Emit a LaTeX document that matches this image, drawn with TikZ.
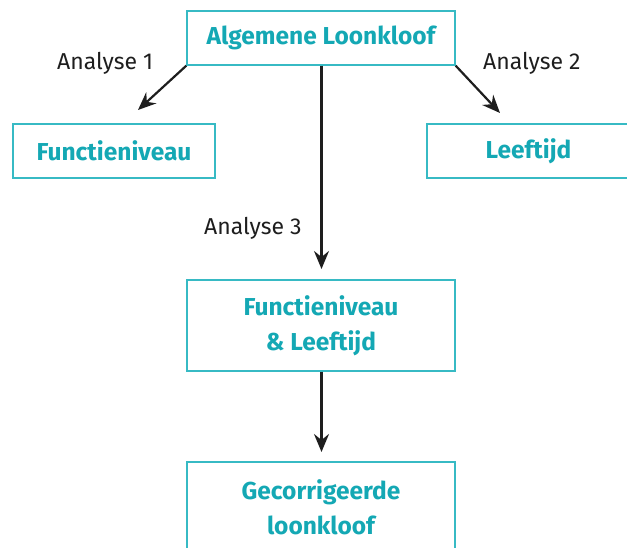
\documentclass[tikz,border=0pt]{standalone}
\usepackage{fontspec}
\setmainfont{Fira Sans}
\usetikzlibrary{arrows.meta}
\definecolor{tealtext}{RGB}{20,168,180}
\definecolor{tealbox}{RGB}{55,186,196}
\definecolor{arrowcol}{RGB}{30,30,30}
\tikzset{
  box/.style={draw=tealbox, line width=1.3pt, fill=white, text=tealtext,
    font=\fontsize{24.5}{35}\selectfont\bfseries, align=center, inner sep=0pt},
  lbl/.style={anchor=base west, inner sep=0pt, text=arrowcol,
    font=\fontsize{23}{26}\selectfont},
  conn/.style={draw=arrowcol, line width=2.2pt, -{Stealth[length=18pt,width=15pt,inset=6pt]}}
}
\begin{document}
\begin{tikzpicture}[x=1pt,y=1pt]
\useasboundingbox (0,0) rectangle (627,548);
\clip (0,0) rectangle (627,548);
\node[box, minimum width=268pt, minimum height=54pt] (top) at (321,510) {Algemene Loonkloof};
\node[box, minimum width=202pt, minimum height=54pt] (func) at (114,397) {Functieniveau};
\node[box, minimum width=203pt, minimum height=54pt] (leef) at (528.5,397) {Leeftijd};
\node[box, minimum width=268pt, minimum height=91pt] (mid) at (321,222.5) {Functieniveau\\\& Leeftijd};
\node[box, minimum width=268pt, minimum height=91pt] (bot) at (321,40.5) {Gecorrigeerde\\loonkloof};
\coordinate (t1) at (138,438);
\coordinate (t2) at (500,435);
\coordinate (t3) at (321.5,279);
\coordinate (t4) at (321.5,96);
\draw[conn] (top.south west) -- (t1);
\draw[conn] (top.south east) -- (t2);
\draw[conn] (top.south -| t3) -- (t3);
\draw[conn] (mid.south -| t4) -- (t4);
\node[lbl] (l1) at (57,478) {Analyse 1};
\node[lbl] (l2) at (483,478) {Analyse 2};
\node[lbl] (l3) at (204,313) {Analyse 3};
\end{tikzpicture}
\end{document}
